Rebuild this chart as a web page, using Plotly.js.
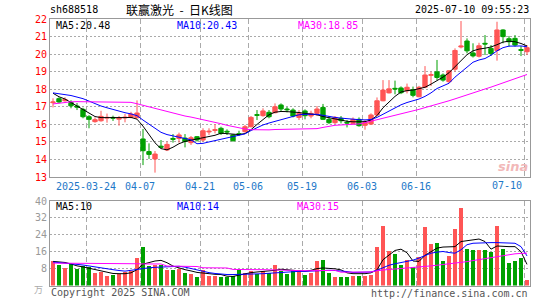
<!DOCTYPE html>
<html><head><meta charset="utf-8">
<script src="https://cdn.plot.ly/plotly-3.0.1.min.js"></script>
<style>html,body{margin:0;padding:0;background:#fff}#chart{width:545px;height:300px}</style>
</head><body><div id="chart"></div>
<script>
const dates = [
"2025-03-14","2025-03-17","2025-03-18","2025-03-19","2025-03-20","2025-03-21","2025-03-24","2025-03-25","2025-03-26","2025-03-27","2025-03-28","2025-03-31",
"2025-04-01","2025-04-02","2025-04-03","2025-04-07","2025-04-08","2025-04-09","2025-04-10","2025-04-11","2025-04-14","2025-04-15","2025-04-16","2025-04-17","2025-04-18","2025-04-21","2025-04-22","2025-04-23","2025-04-24","2025-04-25","2025-04-28","2025-04-29","2025-04-30",
"2025-05-06","2025-05-07","2025-05-08","2025-05-09","2025-05-12","2025-05-13","2025-05-14","2025-05-15","2025-05-16","2025-05-19","2025-05-20","2025-05-21","2025-05-22","2025-05-23","2025-05-26","2025-05-27","2025-05-28","2025-05-29","2025-05-30",
"2025-06-03","2025-06-04","2025-06-05","2025-06-06","2025-06-09","2025-06-10","2025-06-11","2025-06-12","2025-06-13","2025-06-16","2025-06-17","2025-06-18","2025-06-19","2025-06-20","2025-06-23","2025-06-24","2025-06-25","2025-06-26","2025-06-27","2025-06-30",
"2025-07-01","2025-07-02","2025-07-03","2025-07-04","2025-07-07","2025-07-08","2025-07-09","2025-07-10"];

const open = [17.24,17.47,17.35,17.25,17.05,16.86,16.44,16.16,16.21,16.36,16.40,16.30,16.37,16.40,16.38,15.17,14.45,14.03,14.76,14.54,
15.20,15.20,15.22,14.96,15.30,15.11,15.57,15.66,15.78,15.61,15.40,15.47,15.59,15.87,16.56,16.50,16.69,16.67,17.11,16.88,
16.82,16.40,16.77,16.48,16.63,16.97,16.29,16.10,16.35,16.12,16.06,16.29,15.95,16.02,16.54,17.35,17.80,18.06,18.08,17.92,
17.98,17.58,18.12,18.80,19.00,18.82,18.44,19.15,20.42,20.76,20.08,19.89,20.63,20.34,20.22,21.39,20.89,20.91,20.27,20.15];
const high = [17.49,17.55,17.55,17.38,17.22,16.95,16.53,16.40,16.78,16.62,16.50,16.48,16.60,16.72,17.37,15.74,14.92,14.48,15.11,15.02,
15.45,15.53,15.45,15.34,15.34,15.78,15.78,16.02,15.87,15.72,15.45,15.64,15.97,16.48,16.82,16.92,16.82,17.20,17.20,17.00,
16.92,16.82,16.86,16.78,17.05,17.17,16.48,16.48,16.48,16.25,16.40,16.40,16.25,16.63,17.54,18.53,18.53,18.50,18.17,18.33,
18.16,18.20,19.33,19.01,19.68,18.91,19.10,20.34,21.90,20.91,20.63,20.66,21.10,20.53,21.86,21.43,21.05,21.10,20.47,20.53];
const low = [16.97,17.20,17.30,16.92,16.82,16.35,15.78,16.10,16.16,16.10,16.20,15.93,16.12,16.35,16.35,13.68,14.03,13.25,14.63,14.48,
14.96,14.96,14.69,14.83,15.02,15.02,15.40,15.49,15.40,15.40,15.02,15.34,15.53,15.83,16.25,16.44,16.35,16.63,16.73,16.69,
16.40,16.25,16.29,16.35,16.48,16.25,16.02,16.02,16.06,15.83,15.97,15.87,15.70,15.97,16.48,17.32,17.77,17.72,17.73,17.77,
17.55,17.55,18.07,18.19,18.53,18.44,18.34,19.01,20.34,20.06,19.82,19.82,19.96,19.91,19.64,20.63,20.44,20.44,19.90,19.96];
const close = [17.28,17.28,17.42,17.06,16.99,16.44,16.29,16.27,16.46,16.40,16.36,16.38,16.41,16.59,16.65,14.50,14.29,14.31,14.70,14.86,
15.15,15.40,15.03,15.24,15.11,15.64,15.61,15.70,15.49,15.57,15.07,15.43,15.87,16.40,16.52,16.77,16.44,17.01,16.88,16.84,
16.48,16.63,16.50,16.63,16.88,16.29,16.10,16.40,16.21,16.08,16.29,15.93,16.15,16.54,17.35,17.96,18.03,18.02,17.81,18.12,
17.66,18.12,18.82,18.84,18.68,18.53,19.06,20.22,20.47,20.20,19.91,20.49,20.59,20.04,21.39,21.01,20.72,20.53,20.23,20.38];

const ma5 = [17.78,17.58,17.45,17.25,17.05,16.86,16.65,16.45,16.39,16.38,16.38,16.38,16.39,16.40,16.30,15.90,15.40,14.95,14.62,14.55,
14.70,14.90,15.03,15.10,15.15,15.22,15.27,15.38,15.50,15.48,15.45,15.42,15.48,15.70,16.00,16.30,16.55,16.70,16.74,16.73,
16.72,16.68,16.63,16.60,16.55,16.45,16.38,16.30,16.25,16.18,16.15,16.15,16.16,16.25,16.50,16.95,17.30,17.60,17.85,17.93,
17.96,18.02,18.12,18.30,18.50,18.70,18.95,19.30,19.65,19.98,20.20,20.30,20.35,20.42,20.55,20.70,20.75,20.72,20.62,20.48];
const ma10 = [17.80,17.76,17.72,17.65,17.56,17.47,17.33,17.18,17.05,16.95,16.85,16.75,16.67,16.60,16.50,16.25,16.00,15.78,15.55,15.42,
15.35,15.30,15.22,15.12,14.90,14.92,15.00,15.08,15.18,15.25,15.33,15.40,15.46,15.65,15.82,15.97,16.08,16.18,16.28,16.37,
16.45,16.55,16.58,16.58,16.58,16.52,16.45,16.40,16.36,16.32,16.29,16.27,16.26,16.28,16.40,16.58,16.78,16.96,17.12,17.25,
17.35,17.45,17.60,17.80,18.05,18.20,18.35,18.70,19.00,19.30,19.55,19.68,19.76,19.95,20.20,20.38,20.47,20.47,20.48,20.43];
const ma30 = [17.17,17.22,17.27,17.29,17.30,17.30,17.30,17.30,17.30,17.30,17.29,17.29,17.28,17.26,17.18,17.09,17.00,16.92,16.84,16.75,
16.65,16.56,16.48,16.42,16.35,16.28,16.20,16.12,16.04,15.95,15.87,15.80,15.74,15.70,15.69,15.68,15.69,15.71,15.72,15.72,
15.72,15.73,15.73,15.74,15.76,15.83,15.91,15.95,15.97,15.98,15.99,16.03,16.10,16.18,16.26,16.36,16.45,16.54,16.62,16.70,
16.78,16.86,16.96,17.05,17.15,17.25,17.35,17.46,17.58,17.69,17.80,17.91,18.02,18.13,18.25,18.37,18.50,18.62,18.75,18.85];

const volume = [11.7,9.8,8.4,10.3,7.7,9.2,8.6,6.1,6.6,4.7,5.2,5.6,6.6,6.9,13.1,18.3,9.4,9.8,9.7,7.2,
7.5,8.0,6.1,5.6,4.1,7.2,4.7,4.7,4.1,3.8,4.4,8.0,5.8,7.0,5.6,6.7,6.1,9.8,6.7,5.6,
6.9,7.5,5.2,5.9,11.4,12.2,6.1,3.8,3.8,3.8,4.4,4.7,4.7,5.0,18.3,28.3,16.1,14.7,9.5,12.0,
8.9,13.6,27.7,19.8,20.2,11.7,14.1,26.7,36.6,17.3,16.6,16.6,16.9,16.0,28.3,17.3,10.5,11.7,12.8,2.8];
const volMa5 = [11.4,11.2,10.9,10.2,9.3,8.8,8.2,7.6,6.9,6.3,5.7,5.6,5.6,6.0,7.5,10.1,11.0,11.6,11.9,10.8,
9.2,8.2,7.5,6.9,6.2,5.9,5.5,5.3,5.2,4.4,4.3,5.0,5.6,6.1,6.4,6.6,6.9,7.2,7.7,7.5,
7.2,6.9,6.7,7.2,8.0,8.3,8.2,7.9,7.4,6.0,5.6,5.6,5.6,6.0,7.4,12.2,14.5,16.6,17.2,15.5,
11.6,11.4,14.3,16.2,17.7,18.2,18.4,18.4,20.8,21.2,21.7,22.0,20.8,17.2,18.7,18.4,18.4,18.4,16.0,10.0];
const volMa10 = [11.1,10.9,10.6,10.3,10.0,9.7,9.2,8.7,8.3,7.9,7.5,7.1,6.8,7.2,7.7,8.2,8.4,8.6,8.7,8.8,
9.0,9.1,8.7,8.0,7.3,6.7,6.1,5.7,5.4,5.2,5.2,5.2,5.2,5.3,5.5,5.6,5.8,6.1,6.3,6.5,
6.7,6.7,6.7,6.9,7.1,7.2,7.2,7.1,7.0,6.6,6.2,6.2,6.2,6.4,7.2,8.5,9.6,10.3,10.8,11.2,
12.0,13.0,14.2,15.3,15.8,16.1,15.6,15.3,16.9,19.3,20.0,20.2,20.3,20.3,20.3,20.3,20.3,20.0,18.4,14.0];
const volMa30 = [10.6,10.6,10.6,10.6,10.6,10.6,10.5,10.5,10.5,10.4,10.3,10.3,10.3,10.3,10.3,10.2,10.2,10.2,10.2,9.2,
9.1,9.1,9.1,9.0,9.0,8.4,8.3,8.3,8.3,8.3,7.6,7.5,7.5,7.5,7.5,7.5,7.4,7.2,7.2,7.2,
7.1,7.0,7.0,7.0,7.1,7.2,7.2,7.2,6.3,6.3,6.3,6.3,6.3,6.4,7.0,7.4,7.6,7.8,8.0,8.2,
8.4,8.7,9.0,9.3,9.6,9.9,10.2,10.5,10.9,11.3,11.8,12.3,12.8,13.3,13.8,14.3,14.7,15.0,15.2,15.3];

const tickDates = ["2025-03-24","2025-04-07","2025-04-21","2025-05-06","2025-05-19","2025-06-03","2025-06-16","2025-07-10"];
const tickLabels = ["2025-03-24","04-07","04-21","05-06","05-19","06-03","06-16","07-10"];
const priceTicks = [13,14,15,16,17,18,19,20,21,22];
const volTicks = [8,16,24,32,40];

const UP = '#ff5555', DOWN = '#00a000';
const idx = dates.map((d, i) => i);
const tickPos = tickDates.map(d => dates.indexOf(d) - 0.5);
const lastLabel = tickLabels[tickLabels.length - 1];
const axisTickText = tickLabels.map((t, i) => i === tickLabels.length - 1 ? '' : t);
const volColors = close.map((c, i) => c >= open[i] ? UP : DOWN);
const last = a => a[a.length - 1];

const mono = 'DejaVu Sans Mono, Liberation Mono, monospace';
const px = x => (x - 50) / 480;
const py = y => 1 - y / 300;

const traces = [
  {type:'candlestick', x: idx, open, high, low, close, xaxis:'x', yaxis:'y',
   increasing:{line:{color:UP, width:1}, fillcolor:UP},
   decreasing:{line:{color:DOWN, width:1}, fillcolor:DOWN},
   whiskerwidth:0, hoverinfo:'skip', showlegend:false},
  {type:'scatter', mode:'lines', x: idx, y: ma5, xaxis:'x', yaxis:'y', line:{color:'#000000', width:1}, hoverinfo:'skip'},
  {type:'scatter', mode:'lines', x: idx, y: ma10, xaxis:'x', yaxis:'y', line:{color:'#0000ff', width:1}, hoverinfo:'skip'},
  {type:'scatter', mode:'lines', x: idx, y: ma30, xaxis:'x', yaxis:'y', line:{color:'#ff00ff', width:1}, hoverinfo:'skip'},
  {type:'bar', x: idx, y: volume, xaxis:'x2', yaxis:'y2', width:0.82, marker:{color: volColors, line:{width:0}}, hoverinfo:'skip'},
  {type:'scatter', mode:'lines', x: idx, y: volMa5, xaxis:'x2', yaxis:'y2', line:{color:'#000000', width:1}, hoverinfo:'skip'},
  {type:'scatter', mode:'lines', x: idx, y: volMa10, xaxis:'x2', yaxis:'y2', line:{color:'#0000ff', width:1}, hoverinfo:'skip'},
  {type:'scatter', mode:'lines', x: idx, y: volMa30, xaxis:'x2', yaxis:'y2', line:{color:'#ff00ff', width:1}, hoverinfo:'skip'}
];

const gridCol = '#aaaaaa';
const ann = (text, x, y, xanchor, color, size, family, extra) => Object.assign({
  text, x: px(x), y: py(y), xref:'paper', yref:'paper', xanchor, yanchor:'middle',
  showarrow:false, font:{family: family || mono, size: size || 10, color: color || '#000'}
}, extra || {});

const layout = {
  width:545, height:300,
  margin:{l:50, r:15, t:0, b:0, pad:0},
  paper_bgcolor:'#fff', plot_bgcolor:'#fff',
  showlegend:false,
  boxgap:0.2, boxgroupgap:0.1,
  bargap:0,
  xaxis:{domain:[0,1], range:[-0.5, idx.length - 0.5], anchor:'y', type:'linear',
    tickmode:'array', tickvals: tickPos, ticktext: axisTickText, ticks:'',
    showgrid:true, gridcolor:gridCol, griddash:'5px,3px', gridwidth:1,
    showline:true, mirror:true, linecolor:'#999', linewidth:1, zeroline:false,
    tickfont:{family:mono, size:10, color:'#1e78c8'}, rangeslider:{visible:false}, fixedrange:true},
  yaxis:{domain:[0.41, 0.9357], range:[13,22], anchor:'x',
    tickmode:'array', tickvals: priceTicks, ticktext: priceTicks.map(String), ticks:'',
    showgrid:true, gridcolor:gridCol, griddash:'2px,2px', gridwidth:1,
    showline:true, mirror:true, linecolor:'#999', linewidth:1, zeroline:false,
    tickfont:{family:mono, size:10, color:'#ff0000'}, fixedrange:true},
  xaxis2:{domain:[0,1], range:[-0.5, idx.length - 0.5], anchor:'y2', type:'linear',
    tickmode:'array', tickvals: tickPos, showticklabels:false, ticks:'',
    showgrid:true, gridcolor:gridCol, griddash:'5px,3px', gridwidth:1,
    showline:true, mirror:true, linecolor:'#999', linewidth:1, zeroline:false, fixedrange:true},
  yaxis2:{domain:[0.0483, 0.33], range:[0,40], anchor:'x2',
    tickmode:'array', tickvals: volTicks, ticktext: volTicks.map(String), ticks:'',
    showgrid:true, gridcolor:gridCol, griddash:'2px,2px', gridwidth:1,
    showline:true, mirror:true, linecolor:'#999', linewidth:1, zeroline:false,
    tickfont:{family:mono, size:10, color:'#999999'}, fixedrange:true},
  annotations:[
    ann('sh688518', 48, 10, 'left'),
    ann('联赢激光\u00a0\u00a0-\u00a0\u00a0日K线图', 179, 10, 'center', '#000', 12, 'Noto Sans CJK SC'),
    ann('2025-07-10 09:55:23', 531, 10, 'right'),
    ann('MA5:' + last(ma5).toFixed(2), 54, 25, 'left', '#000000'),
    ann('MA10:' + last(ma10).toFixed(2), 175, 25, 'left', '#0000ff'),
    ann('MA30:' + last(ma30).toFixed(2), 296, 25, 'left', '#ff00ff'),
    ann('MA5:' + Math.round(last(volMa5)), 54, 206, 'left', '#000000'),
    ann('MA10:' + Math.round(last(volMa10)), 175, 206, 'left', '#0000ff'),
    ann('MA30:' + Math.round(last(volMa30)), 295, 206, 'left', '#ff00ff'),
    ann(lastLabel, 524, 185, 'right', '#1e78c8'),
    ann('万', 38, 289, 'center', '#aaaaaa', 9, 'Noto Sans CJK SC'),
    ann('Copyright 2025 SINA.COM', 49, 292, 'left', '#555555'),
    ann('http://finance.sina.com.cn', 530, 293, 'right', '#555555'),
    ann('<b><i>sina</i></b>', 513, 166, 'center', '#f2b8b8', 13, 'DejaVu Sans')
  ]
};

Plotly.newPlot('chart', traces, layout, {staticPlot:true, displayModeBar:false});
</script>
</body></html>
